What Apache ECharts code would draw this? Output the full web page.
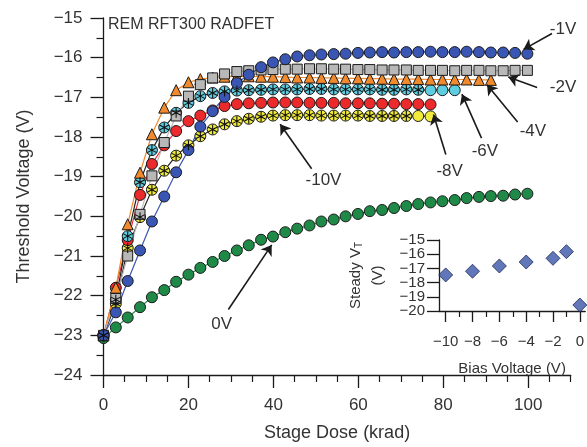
<!DOCTYPE html>
<html>
<head>
<meta charset="utf-8">
<script src="https://cdn.jsdelivr.net/npm/echarts@6/dist/echarts.min.js"></script>
<style>
  html, body { margin: 0; padding: 0; background: #fff; }
  #main { width: 587px; height: 447px; }
</style>
</head>
<body>
<div id="main"></div>
<script>
// dose steps (krad) shared by all bias curves
var dose = [0, 2.9, 5.7, 8.6, 11.4, 14.3, 17.1, 20, 22.8, 25.7, 28.5, 31.4, 34.2, 37.1, 39.9, 42.8, 45.6, 48.5,
            51.3, 54.2, 57, 59.9, 62.7, 65.6, 68.4, 71.3, 74.1, 77, 79.8, 82.7, 85.5, 88.4, 91.2, 94.1, 96.9, 99.8];

// threshold voltage (V) per bias
var v0V  = [-23.07,-22.80,-22.55,-22.29,-22.04,-21.86,-21.65,-21.47,-21.30,-21.15,-21.0,-20.86,-20.73,-20.59,-20.51,-20.40,-20.31,-20.23,
            -20.13,-20.08,-20.0,-19.94,-19.87,-19.84,-19.79,-19.74,-19.69,-19.65,-19.62,-19.59,-19.54,-19.51,-19.49,-19.48,-19.45,-19.43];
var vM1  = [-23.0,-22.42,-21.63,-20.86,-20.13,-19.5,-18.89,-18.33,-17.74,-17.35,-16.99,-16.64,-16.43,-16.24,-16.12,-16.04,-15.97,-15.94,
            -15.92,-15.91,-15.9,-15.88,-15.87,-15.86,-15.87,-15.86,-15.86,-15.85,-15.86,-15.86,-15.85,-15.86,-15.87,-15.87,-15.88,-15.9];
var vM2  = [-23.0,-22.07,-21.0,-19.95,-18.98,-18.14,-17.47,-16.97,-16.68,-16.51,-16.41,-16.35,-16.33,-16.31,-16.3,-16.29,-16.29,-16.28,
            -16.28,-16.29,-16.29,-16.3,-16.3,-16.31,-16.31,-16.31,-16.32,-16.32,-16.32,-16.33,-16.32,-16.32,-16.33,-16.33,-16.32,-16.32];
var vM4  = [-23.0,-21.8,-20.2,-18.9,-17.93,-17.26,-16.82,-16.62,-16.54,-16.5,-16.48,-16.47,-16.47,-16.48,-16.48,-16.49,-16.5,-16.5,
            -16.51,-16.51,-16.52,-16.52,-16.53,-16.53,-16.54,-16.54,-16.54,-16.55,-16.55,-16.55,-16.55,-16.56,-16.56];
var vM6  = [-23.0,-22.1,-20.5,-19.14,-18.33,-17.76,-17.39,-17.14,-16.97,-16.89,-16.85,-16.83,-16.82,-16.81,-16.8,-16.8,-16.8,-16.79,
            -16.79,-16.8,-16.8,-16.8,-16.8,-16.81,-16.81,-16.8,-16.81,-16.82,-16.82,-16.82];
var vM8  = [-23.0,-21.8,-20.6,-19.46,-18.68,-18.21,-17.85,-17.6,-17.46,-17.33,-17.22,-17.17,-17.15,-17.14,-17.13,-17.13,-17.13,-17.14,
            -17.14,-17.14,-17.15,-17.15,-17.15,-17.16,-17.16,-17.17,-17.17,-17.18];
var vM10 = [-23.0,-22.2,-20.8,-20.02,-19.33,-18.85,-18.47,-18.21,-17.98,-17.81,-17.68,-17.6,-17.54,-17.49,-17.46,-17.45,-17.45,-17.45,
            -17.46,-17.46,-17.46,-17.46,-17.47,-17.47,-17.47,-17.47,-17.47,-17.48];
// how many points of the -6V / -10V runs carry the asterisk marks
var starCountM6 = 27;
var starCountM10 = 26;

// inset: steady threshold vs bias
var bias = [-10, -8, -6, -4, -2, -1, 0];
var steadyVt = [-17.46, -17.2, -16.83, -16.55, -16.29, -15.82, -19.58];

// tick positions
var doseMajor = [0, 20, 40, 60, 80, 100];
var doseMinor = [5, 10, 15, 25, 30, 35, 45, 50, 55, 65, 70, 75, 85, 90, 95, 105, 110];
var biasMajor = [-10, -8, -6, -4, -2, 0];
var biasMinor = [-9, -7, -5, -3, -1];
var vtTicks = [-20, -19, -18, -17, -16, -15];
var vtLabelsA = [-19, -17, -15];
var vtLabelsB = [-20, -18, -16];

// arrow annotations (data coords)
var notes = [
  {text: '-1V',  label: [108.2, -15.28], from: [105.6, -15.39], to: [98.9, -15.79]},
  {text: '-2V',  label: [108.2, -16.74], from: [102.1, -16.75], to: [95.3, -16.49]},
  {text: '-4V',  label: [101.1, -17.86], from: [97.5, -17.62], to: [90.3, -16.68]},
  {text: '-6V',  label: [89.8, -18.36],  from: [89.0, -18.03], to: [84.4, -16.92]},
  {text: '-8V',  label: [81.5, -18.86],  from: [80.6, -18.44], to: [77.7, -17.43]},
  {text: '-10V', label: [51.8, -19.1],   from: [49.0, -18.8],  to: [41.6, -17.68]},
  {text: '0V',   label: [27.8, -22.72],  from: [29.4, -22.35], to: [39.6, -20.72]}
];

function pairs(vals) {
  return vals.map(function (v, i) { return [dose[i], v]; });
}
function minus(v) { return v < 0 ? '\u2212' + Math.abs(v) : String(v); }

var font = "'Liberation Sans', Arial, sans-serif";
var ink = '#333';
var edge = '#1a1a1a';
// six-spoke asterisk drawn as three thin bars
var asterisk = 'path://M-1 -10 L1 -10 L1 10 L-1 10 Z M8.16 -5.87 L9.16 -4.13 L-8.16 5.87 L-9.16 4.13 Z M-9.16 -4.13 L-8.16 -5.87 L9.16 4.13 L8.16 5.87 Z';

function curve(name, vals, symbol, size, fill, lineColor) {
  return {
    name: name, type: 'line', xAxisIndex: 0, yAxisIndex: 0,
    data: pairs(vals), symbol: symbol, symbolSize: size, showAllSymbol: true,
    lineStyle: {color: lineColor, width: 1.2},
    itemStyle: {color: fill, borderColor: edge, borderWidth: 1},
    emphasis: {disabled: true}
  };
}
function stars(name, vals) {
  return {
    name: name, type: 'line', xAxisIndex: 0, yAxisIndex: 0, z: 5,
    data: pairs(vals), symbol: asterisk, symbolSize: 10, showAllSymbol: true,
    lineStyle: {width: 0, opacity: 0},
    itemStyle: {color: '#111', borderWidth: 0},
    emphasis: {disabled: true}
  };
}

var myChart = echarts.init(document.getElementById('main'));

var series1 = [
  curve('0V', v0V, 'circle', 11, '#1f8a47', '#2b8a4e'),
  curve('-10V', vM10, 'circle', 11, '#f1ec3c', '#222'),
  curve('-8V', vM8, 'circle', 11, '#ec2a2c', '#e8303a'),
  curve('-6V', vM6, 'circle', 11, '#5fcde0', '#222'),
  curve('-4V', vM4, 'triangle', 11, '#f08a2c', '#f08a2c'),
  curve('-2V', vM2, 'rect', 10, '#b8b8b8', '#bdbdbd'),
  curve('-1V', vM1, 'circle', 11, '#3a56b4', '#3a56b4'),
  stars('-10V*', vM10.slice(0, starCountM10)),
  stars('-6V*', vM6.slice(0, starCountM6))
];

// arrows
series1[0].markLine = {
  silent: true, animation: false,
  symbol: ['none', 'arrow'], symbolSize: 10,
  lineStyle: {color: '#1a1a1a', width: 1.6, type: 'solid'},
  label: {show: false},
  emphasis: {disabled: true},
  data: notes.map(function (n) { return [{coord: n.from}, {coord: n.to}]; })
};

series1.push({
  name: 'Steady', type: 'scatter', xAxisIndex: 2, yAxisIndex: 1,
  data: bias.map(function (b, i) { return [b, steadyVt[i]]; }),
  symbol: 'diamond', symbolSize: 14,
  itemStyle: {color: '#3b55a8', borderColor: '#1a2a55', borderWidth: 1},
  emphasis: {disabled: true}
});

var axisLine = {show: true, onZero: false, lineStyle: {color: '#1a1a1a', width: 1.3}};
var insetLabel = {margin: 14, fontSize: 15, color: ink, fontFamily: font, formatter: minus,
                  hideOverlap: false, showMinLabel: true, showMaxLabel: true};

option = {
  animation: false,
  textStyle: {fontFamily: font},
  title: {
    text: 'REM RFT300 RADFET', left: 108, top: 17, padding: 0,
    textStyle: {fontSize: 16, fontWeight: 'normal', color: ink, fontFamily: font}
  },
  grid: [
    {left: 103.5, top: 18, right: 16.3, bottom: 70.3},
    {left: 439, top: 240, width: 148, height: 71}
  ],
  xAxis: [
    {
      gridIndex: 0, type: 'value', min: 0, max: 110, position: 'bottom',
      name: 'Stage Dose (krad)', nameLocation: 'middle', nameGap: 49,
      nameTextStyle: {fontSize: 18, color: ink, fontFamily: font},
      axisLine: axisLine,
      axisTick: {show: true, inside: false, length: 13, customValues: doseMajor, lineStyle: {color: '#1a1a1a', width: 1.3}},
      axisLabel: {customValues: doseMajor, margin: 22, fontSize: 17, color: ink, fontFamily: font},
      splitLine: {show: false}
    },
    {
      gridIndex: 0, type: 'value', min: 0, max: 110, position: 'bottom',
      axisLine: {show: false, onZero: false},
      axisTick: {show: true, length: 7, customValues: doseMinor, lineStyle: {color: '#1a1a1a', width: 1.2}},
      axisLabel: {show: false},
      splitLine: {show: false}
    },
    {
      gridIndex: 1, type: 'value', min: -10.5, max: 0.4, position: 'bottom',
      name: 'Bias Voltage (V)', nameLocation: 'middle', nameGap: 50,
      nameTextStyle: {fontSize: 15, color: ink, fontFamily: font},
      axisLine: axisLine,
      axisTick: {show: true, length: 11, customValues: biasMajor, lineStyle: {color: '#1a1a1a', width: 1.3}},
      axisLabel: {customValues: biasMajor, margin: 23, fontSize: 15, color: ink, fontFamily: font, formatter: minus},
      splitLine: {show: false}
    },
    {
      gridIndex: 1, type: 'value', min: -10.5, max: 0.4, position: 'bottom',
      axisLine: {show: false, onZero: false},
      axisTick: {show: true, length: 6, customValues: biasMinor, lineStyle: {color: '#1a1a1a', width: 1.2}},
      axisLabel: {show: false},
      splitLine: {show: false}
    }
  ],
  yAxis: [
    {
      gridIndex: 0, type: 'value', min: -24, max: -15, interval: 1, position: 'left',
      name: 'Threshold Voltage (V)', nameLocation: 'middle', nameGap: 70, nameRotate: 90,
      nameTextStyle: {fontSize: 18, color: ink, fontFamily: font},
      axisLine: axisLine,
      axisTick: {show: true, length: 13, lineStyle: {color: '#1a1a1a', width: 1.3}},
      minorTick: {show: true, splitNumber: 2, length: 7, lineStyle: {color: '#1a1a1a', width: 1.2}},
      axisLabel: {margin: 21, fontSize: 17, color: ink, fontFamily: font, formatter: minus},
      splitLine: {show: false}
    },
    {
      gridIndex: 1, type: 'value', min: -20, max: -15, position: 'left',
      name: '{a|Steady V}{s|T}\n{a|(V)}', nameLocation: 'middle', nameGap: 50, nameRotate: 90,
      nameTextStyle: {
        color: ink, fontFamily: font,
        rich: {
          a: {fontSize: 15, color: ink, fontFamily: font, lineHeight: 22},
          s: {fontSize: 10, color: ink, fontFamily: font, lineHeight: 22, padding: [7, 0, 0, 0]}
        }
      },
      axisLine: axisLine,
      axisTick: {show: true, length: 12, customValues: vtTicks, lineStyle: {color: '#1a1a1a', width: 1.3}},
      axisLabel: Object.assign({customValues: vtLabelsA}, insetLabel),
      splitLine: {show: false}
    },
    {
      gridIndex: 1, type: 'value', min: -20, max: -15, position: 'left',
      axisLine: {show: false, onZero: false},
      axisTick: {show: false},
      axisLabel: Object.assign({customValues: vtLabelsB}, insetLabel),
      splitLine: {show: false}
    }
  ],
  series: series1
};

myChart.setOption(option);

// arrow labels placed from data coordinates
myChart.setOption({
  graphic: notes.map(function (n) {
    var p = myChart.convertToPixel({seriesIndex: 0}, n.label);
    return {
      type: 'text', x: p[0], y: p[1], silent: true, z: 100,
      style: {text: n.text, fontSize: 17, fontFamily: font, fill: ink,
              align: 'center', verticalAlign: 'middle', textAlign: 'center', textVerticalAlign: 'middle'}
    };
  })
});
</script>
</body>
</html>
